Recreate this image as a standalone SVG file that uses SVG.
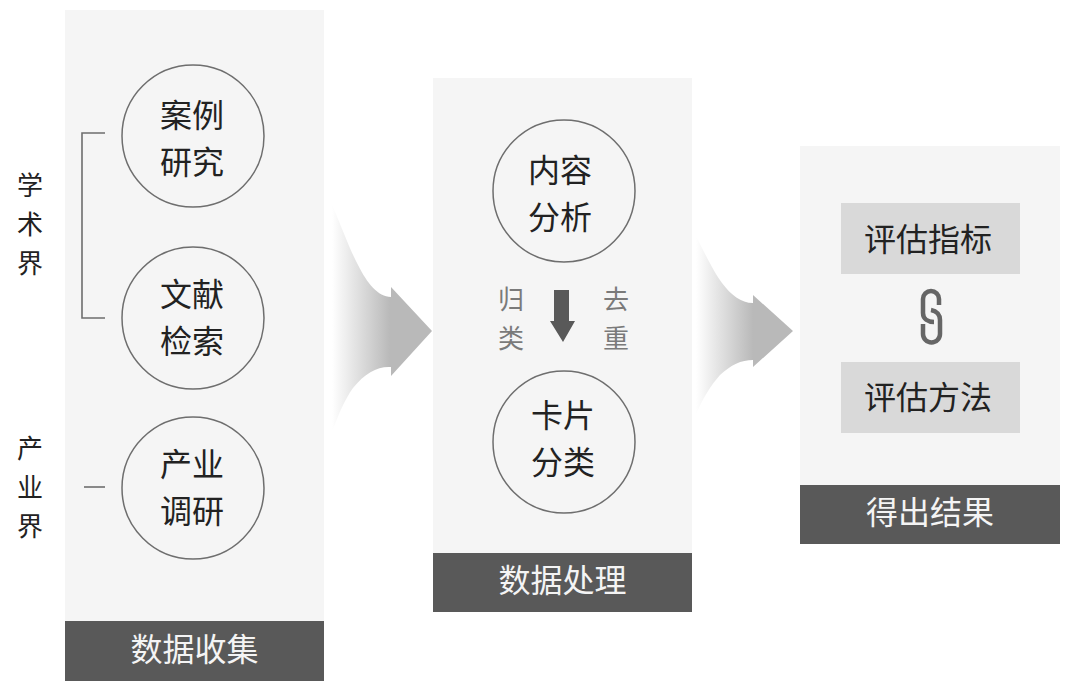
<svg xmlns="http://www.w3.org/2000/svg" width="1080" height="694" viewBox="0 0 1080 694">
<style>
text{font-family:"Noto Sans CJK SC","Noto Sans",sans-serif;text-anchor:middle}
.panel{fill:#f5f5f5}
.bar{fill:#595959}
.barT{fill:#f4f4f4;font-size:32px}
.c{fill:none;stroke:#6e6e6e;stroke-width:1.5}
.t{fill:#222;font-size:32px}
.side{fill:#222;font-size:26px}
.g{fill:#7a7a7a;font-size:26px}
.box{fill:#d9d9d9}
.l{fill:none;stroke:#6e6e6e;stroke-width:1.6}
</style>
<defs>
<linearGradient id="a1" gradientUnits="userSpaceOnUse" x1="332" y1="0" x2="390" y2="0"><stop offset="0" stop-color="#fff"/><stop offset="1" stop-color="#b9b9b9"/></linearGradient>
<linearGradient id="a2" gradientUnits="userSpaceOnUse" x1="696" y1="0" x2="753" y2="0"><stop offset="0" stop-color="#fff"/><stop offset="1" stop-color="#b9b9b9"/></linearGradient>
</defs>
<g id="collect">
<rect class="panel" x="65" y="10" width="259" height="611"/>
<rect class="bar" x="65" y="621" width="259" height="60"/>
<text class="barT" x="194.500" y="661">数据收集</text>
</g>
<g id="process">
<rect class="panel" x="433" y="78" width="259" height="475"/>
<rect class="bar" x="433" y="553" width="259" height="59"/>
<text class="barT" x="562.500" y="592">数据处理</text>
</g>
<g id="result">
<rect class="panel" x="800" y="146" width="260" height="339"/>
<rect class="bar" x="800" y="485" width="260" height="59"/>
<text class="barT" x="930" y="524">得出结果</text>
</g>
<g id="connectors">
<path id="flow1" fill="url(#a1)" d="M332 205C345 235 350 250 358 265C367 283 378 297 391 297V287L432 331L391 376V367C378 366 365 373 353 388C345 399 338 415 332 432Z"/>
<path id="flow2" fill="url(#a2)" d="M696 236C707 258 714 272 722 283C731 295 741 303 753 303V295L793 331L753 367V360C741 360 731 365 720 375C711 385 703 398 696 414Z"/>
<path id="bracket" class="l" d="M105 133H82V318H105"/>
<path id="dash" class="l" d="M84 487H105"/>
<path id="down" fill="#595959" d="M554 290H569V321H575L563 342L550 321H554Z"/>
</g>
<g id="case"><circle class="c" cx="193" cy="136" r="71"/><text class="t" x="192" y="127">案例</text><text class="t" x="192" y="174">研究</text></g>
<g id="lit"><circle class="c" cx="193" cy="318" r="71"/><text class="t" x="192" y="306">文献</text><text class="t" x="192" y="353">检索</text></g>
<g id="survey"><circle class="c" cx="193" cy="488" r="71"/><text class="t" x="192" y="476">产业</text><text class="t" x="192" y="523">调研</text></g>
<g id="content"><circle class="c" cx="564" cy="191" r="71"/><text class="t" x="560" y="182">内容</text><text class="t" x="560" y="229">分析</text></g>
<g id="card"><circle class="c" cx="564" cy="442" r="71"/><text class="t" x="563" y="427">卡片</text><text class="t" x="563" y="474">分类</text></g>
<g id="academia"><text class="side" x="30" y="195">学</text><text class="side" x="30" y="234">术</text><text class="side" x="30" y="273">界</text></g>
<g id="industry"><text class="side" x="30" y="458">产</text><text class="side" x="30" y="497">业</text><text class="side" x="30" y="536">界</text></g>
<g id="classify"><text class="g" x="511" y="309">归</text><text class="g" x="511" y="348">类</text></g>
<g id="dedupe"><text class="g" x="616" y="309">去</text><text class="g" x="616" y="348">重</text></g>
<g id="metric"><rect class="box" x="841" y="203" width="179" height="71"/><text class="t" x="928" y="251">评估指标</text></g>
<g id="method"><rect class="box" x="841" y="362" width="179" height="71"/><text class="t" x="928" y="409">评估方法</text></g>
<g id="link"><path fill="none" stroke="#666" stroke-width="4.500" stroke-linecap="butt" d="M939 305V299A8 8 0 0 0 923 299V313C923 319 928 322 934 322M931 310C937 311 940 315 940 320V334A8.500 8.500 0 0 1 923 334V324"/></g>
</svg>
